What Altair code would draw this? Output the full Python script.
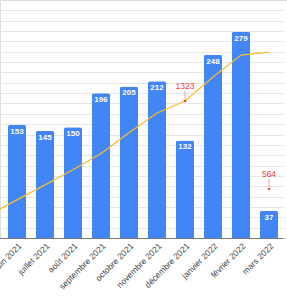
import altair as alt
import pandas as pd

# categories (first one lies just outside the visible area, as in the cropped reference)
months = ["mai 2021", "juin 2021", "juillet 2021", "août 2021", "septembre 2021",
          "octobre 2021", "novembre 2021", "décembre 2021", "janvier 2022",
          "février 2022", "mars 2022"]
bar_months = months[1:]
bar_values = [153, 145, 150, 196, 205, 212, 132, 248, 279, 37]
line_values = [340, 470, 600, 730, 870, 1050, 1220, 1323, 1530, 1720, 1745]
total_months = ["décembre 2021", "mars 2022"]
total_values = [1323, 564]
grid_values = [14 * i for i in range(1, 23)]

bars_df = pd.DataFrame({"m": bar_months, "v": bar_values})
line_df = pd.DataFrame({"m": months, "w": line_values})
tot_df = pd.DataFrame({"m": total_months, "w": total_values})

FONT = "Liberation Sans"
BLUE = "#4285F4"
YELLOW = "#F5BE2E"
RED = "#EA4335"

x = alt.X(
    "m:N",
    scale=alt.Scale(domain=months, range=[-25, 283], paddingInner=0.357, paddingOuter=0.1785),
    axis=alt.Axis(title=None, labelAngle=-45, labelAlign="right", labelBaseline="middle",
                  labelFontSize=8.5, labelColor="#444", labelFont=FONT, ticks=False,
                  domainColor="#777", labelPadding=6, labelOffset=3, grid=False,
                  labelOverlap=False),
)

y_left = alt.Y(
    "v:Q",
    scale=alt.Scale(domain=[0, 322], nice=False, zero=True),
    axis=alt.Axis(values=grid_values, grid=True, gridColor="#e6e6e6", labels=False,
                  ticks=False, domain=False, title=None),
)
y_right = alt.Y("w:Q", scale=alt.Scale(domain=[141, 2195], nice=False, zero=False), axis=None)

bars = alt.Chart(bars_df).mark_bar(color=BLUE, cornerRadiusTopLeft=2,
                                   cornerRadiusTopRight=2).encode(x=x, y=y_left)
bar_text = alt.Chart(bars_df).mark_text(color="white", fontWeight="bold", fontSize=8,
                                        font=FONT, baseline="middle", dy=7).encode(
    x=x, y=y_left, text="v:Q")
left = alt.layer(bars, bar_text)

line = alt.Chart(line_df).mark_line(color=YELLOW, strokeWidth=1.3, clip=True).encode(x=x, y=y_right)
rule = alt.Chart(tot_df).mark_rule(color=RED, strokeWidth=0.5, yOffset=-2, y2Offset=-10).encode(
    x=x, y=y_right, y2=alt.Y2("w"))
dots = alt.Chart(tot_df).mark_circle(color=RED, size=7, opacity=1).encode(x=x, y=y_right)
tot_text = alt.Chart(tot_df).mark_text(color=RED, fontSize=8.5, font=FONT, baseline="middle",
                                       dy=-15).encode(x=x, y=y_right, text="w:Q")
right = alt.layer(line, rule, dots, tot_text)

chart = alt.layer(left, right).resolve_scale(y="independent").properties(
    width=287, height=238,
    autosize=alt.AutoSizeParams(type="none"),
    padding={"left": 0, "top": 0, "right": 0, "bottom": 61},
).configure_view(strokeWidth=0).configure(background="white")

chart.save("out.html", embed_options={"renderer": "svg", "actions": False})
